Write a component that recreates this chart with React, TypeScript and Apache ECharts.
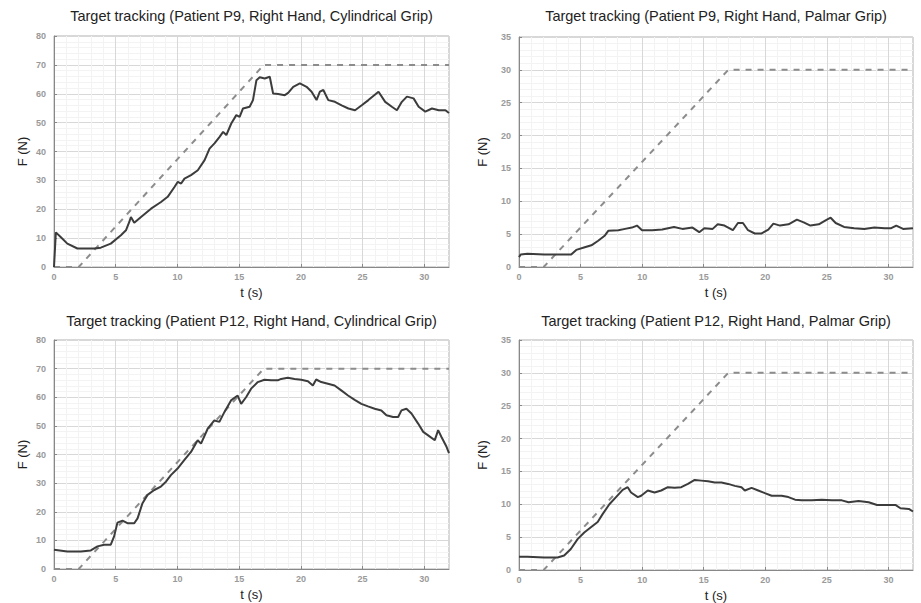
import React, { useEffect, useRef } from "react";
import * as echarts from "echarts";

const T_TARGET = [0, 2, 17, 32];
const F_TARGET_CYL = [0, 0, 70, 70];
const F_TARGET_PAL = [0, 0, 30, 30];

const TITLES = [
  "Target tracking (Patient P9, Right Hand, Cylindrical Grip)",
  "Target tracking (Patient P9, Right Hand, Palmar Grip)",
  "Target tracking (Patient P12, Right Hand, Cylindrical Grip)",
  "Target tracking (Patient P12, Right Hand, Palmar Grip)",
];

const X_TICK_MAX = 32;
const Y_MAX_CYL = 80;
const Y_MAX_PAL = 35;

const P9_CYL_T = [0, 0.15, 0.54, 1.08, 1.9, 3.25, 3.79, 4.6, 5.42, 5.83, 6.1, 6.23, 6.5, 7.05, 7.86, 8.67, 9.21, 9.76, 10.03, 10.3, 10.57, 11.1, 11.65, 12.2, 12.6, 13.0, 13.4, 13.7, 13.96, 14.36, 14.77, 15.04, 15.31, 15.85, 16.12, 16.4, 16.67, 17.07, 17.48, 17.75, 18.16, 18.7, 18.97, 19.38, 19.92, 20.46, 20.87, 21.27, 21.54, 21.82, 22.22, 22.76, 23.3, 23.85, 24.39, 24.93, 25.47, 26.29, 26.83, 27.37, 27.78, 28.18, 28.59, 29.13, 29.54, 30.08, 30.62, 31.17, 31.71, 32];
const P9_CYL_F = [0, 12, 10.4, 8.1, 6.4, 6.4, 6.7, 8.1, 11, 12.7, 15.6, 17.3, 15.3, 17.3, 20.2, 22.5, 24.3, 27.7, 29.5, 28.9, 30.6, 31.8, 33.5, 37, 41, 42.8, 45, 46.8, 45.7, 49.7, 52.6, 52, 54.9, 55.5, 57.8, 64.7, 65.7, 65.3, 65.9, 60.1, 59.9, 59.5, 60.3, 62.4, 63.6, 62.4, 60.7, 57.8, 60.7, 61.3, 57.8, 57.2, 56, 54.9, 54.3, 56, 57.8, 60.7, 57.2, 55.5, 54.3, 57.2, 59, 58.4, 55.5, 53.8, 54.9, 54.3, 54.3, 53.3];

const P9_PAL_T = [0, 0.14, 0.68, 2.05, 3.15, 4.24, 4.65, 5.34, 5.88, 6.43, 6.98, 7.25, 8.07, 8.62, 9.17, 9.58, 9.99, 10.81, 11.63, 12.59, 13.27, 14.09, 14.64, 15.05, 15.73, 16.14, 16.69, 17.37, 17.78, 18.19, 18.6, 19.15, 19.7, 20.25, 20.66, 21.2, 21.89, 22.57, 23.12, 23.67, 24.35, 24.9, 25.31, 25.72, 26.4, 27.22, 28.04, 28.86, 29.69, 30.23, 30.64, 31.19, 32];
const P9_PAL_F = [1.5, 1.9, 2.0, 1.9, 1.9, 1.9, 2.6, 3.0, 3.3, 4.0, 4.8, 5.5, 5.6, 5.8, 6.0, 6.3, 5.6, 5.6, 5.7, 6.1, 5.8, 6.0, 5.3, 5.9, 5.8, 6.5, 6.3, 5.6, 6.7, 6.7, 5.6, 5.1, 5.1, 5.7, 6.6, 6.3, 6.5, 7.2, 6.8, 6.3, 6.5, 7.1, 7.5, 6.7, 6.1, 5.9, 5.8, 6.0, 5.9, 5.9, 6.3, 5.8, 5.9];

const P12_CYL_T = [0, 1.08, 2.17, 2.98, 3.52, 4.06, 4.6, 4.87, 5.14, 5.55, 5.95, 6.5, 6.77, 7.17, 7.58, 8.12, 8.66, 9.07, 9.47, 10.01, 10.55, 11.1, 11.64, 11.91, 12.45, 12.99, 13.4, 13.8, 14.34, 14.88, 15.16, 15.56, 15.97, 16.51, 17.05, 17.59, 18.13, 18.4, 18.94, 19.49, 20.03, 20.57, 20.97, 21.24, 21.65, 22.19, 22.73, 23.27, 23.82, 24.36, 24.9, 25.44, 25.98, 26.52, 26.93, 27.47, 27.88, 28.15, 28.55, 28.96, 29.5, 29.91, 30.31, 30.85, 31.12, 31.39, 31.8, 32];
const P12_CYL_F = [6.7, 6.1, 6.1, 6.5, 7.9, 8.5, 8.5, 11.4, 16.2, 16.9, 16, 16, 17.7, 23, 25.9, 27.6, 28.8, 30.5, 32.8, 35.1, 38, 40.9, 45, 43.8, 49, 51.9, 51.4, 54.8, 58.9, 60.6, 57.7, 60, 63, 65.3, 66.1, 65.9, 65.9, 66.4, 66.8, 66.4, 66.1, 65.6, 64.1, 66.2, 65.3, 64.7, 64.1, 62.4, 60.6, 59.1, 57.7, 56.8, 56, 55.4, 53.7, 53.1, 53.1, 55.4, 56, 54.3, 50.8, 47.9, 46.7, 45, 48.5, 46.1, 42.7, 40.5];

const P12_PAL_T = [0, 0.68, 2.04, 3.13, 3.67, 4.21, 4.76, 5.3, 5.84, 6.39, 6.79, 7.34, 7.88, 8.42, 8.83, 9.1, 9.65, 9.92, 10.46, 11.01, 11.55, 12.09, 12.64, 13.18, 13.72, 14.27, 14.81, 15.35, 15.9, 16.44, 16.98, 17.53, 18.07, 18.34, 18.89, 19.43, 19.97, 20.52, 21.33, 21.88, 22.42, 22.96, 23.78, 24.59, 25.41, 26.22, 26.77, 27.58, 28.4, 29.08, 29.76, 30.57, 30.98, 31.66, 32];
const P12_PAL_F = [2.0, 2.0, 1.9, 1.9, 2.2, 3.2, 4.7, 5.7, 6.5, 7.3, 8.5, 10, 11.1, 12.2, 12.6, 11.8, 11.1, 11.3, 12.1, 11.8, 12.1, 12.6, 12.5, 12.6, 13.1, 13.7, 13.6, 13.5, 13.3, 13.3, 13.1, 12.8, 12.6, 12.1, 12.5, 12.1, 11.7, 11.3, 11.3, 11.1, 10.7, 10.6, 10.6, 10.7, 10.6, 10.6, 10.3, 10.5, 10.3, 9.9, 9.9, 9.9, 9.4, 9.3, 8.9];

const zip = (t: number[], f: number[]) => t.map((v, i) => [v, f[i]]);

const GRIDS = [
  { left: 54, top: 36, width: 395, height: 231 },
  { left: 519, top: 37, width: 394, height: 230 },
  { left: 54, top: 340, width: 395, height: 229 },
  { left: 519, top: 340, width: 394, height: 230 },
];

export default function App() {
  const ref = useRef<HTMLDivElement>(null);
  useEffect(() => {
    document.body.style.margin = "0";
    if (!ref.current) return;
    const chart = echarts.init(ref.current, null, { renderer: "svg" });
    const font = "'Liberation Sans', Arial, Helvetica, sans-serif";
    const actual = [
      zip(P9_CYL_T, P9_CYL_F),
      zip(P9_PAL_T, P9_PAL_F),
      zip(P12_CYL_T, P12_CYL_F),
      zip(P12_PAL_T, P12_PAL_F),
    ];
    const targets = [F_TARGET_CYL, F_TARGET_PAL, F_TARGET_CYL, F_TARGET_PAL].map((f) => zip(T_TARGET, f));
    const isCyl = [true, false, true, false];

    const grid = GRIDS.map((g) => ({
      ...g,
      show: true,
      borderColor: "#b0b0b0",
      borderWidth: 1,
      backgroundColor: "#fff",
      containLabel: false,
    }));

    const xAxis = GRIDS.map((_, i) => ({
      type: "value",
      gridIndex: i,
      min: 0,
      max: X_TICK_MAX,
      interval: 5,
      name: "t (s)",
      nameLocation: "middle",
      nameGap: 19,
      nameTextStyle: { fontFamily: font, fontSize: 13, color: "#222" },
      axisLine: { show: true, lineStyle: { color: "#888", width: 1 } },
      axisTick: { show: true, inside: true, length: 3, lineStyle: { color: "#888" } },
      axisLabel: { fontFamily: font, fontSize: 9, color: "#9a9a9a", fontWeight: "bold", margin: 5, showMaxLabel: false },
      splitLine: { show: true, lineStyle: { color: "#d8d8d8", width: 1 } },
      minorTick: { show: false, splitNumber: 5 },
      minorSplitLine: { show: true, lineStyle: { color: "#f3f3f3", width: 1 } },
    }));

    const yAxis = GRIDS.map((_, i) => ({
      type: "value",
      gridIndex: i,
      min: 0,
      max: isCyl[i] ? Y_MAX_CYL : Y_MAX_PAL,
      interval: isCyl[i] ? 10 : 5,
      name: "F (N)",
      nameLocation: "middle",
      nameGap: i % 2 === 0 ? 25 : 30,
      nameTextStyle: { fontFamily: font, fontSize: 13, color: "#222" },
      axisLine: { show: true, lineStyle: { color: "#888", width: 1 } },
      axisTick: { show: true, inside: true, length: 3, lineStyle: { color: "#888" } },
      axisLabel: { fontFamily: font, fontSize: 9, color: "#9a9a9a", fontWeight: "bold", margin: 8 },
      splitLine: { show: true, lineStyle: { color: "#d8d8d8", width: 1 } },
      minorTick: { show: false, splitNumber: 5 },
      minorSplitLine: { show: true, lineStyle: { color: "#f3f3f3", width: 1 } },
    }));

    const series: any[] = [];
    GRIDS.forEach((_, i) => {
      series.push({
        type: "line",
        xAxisIndex: i,
        yAxisIndex: i,
        data: targets[i],
        showSymbol: false,
        symbol: "none",
        lineStyle: { color: "#8c8c8c", width: 2, type: [6, 6] },
        z: 2,
      });
      series.push({
        type: "line",
        xAxisIndex: i,
        yAxisIndex: i,
        data: actual[i],
        showSymbol: false,
        symbol: "none",
        lineStyle: { color: "#3c3c3c", width: 2 },
        z: 3,
      });
    });

    const titleGraphics = GRIDS.map((g, i) => ({
      type: "text",
      x: g.left + g.width / 2,
      y: i < 2 ? 16 : 321,
      style: {
        text: TITLES[i],
        fill: "#222",
        font: `14.5px ${font}`,
        textAlign: "center",
        textVerticalAlign: "middle",
      },
    }));

    chart.setOption({
      animation: false,
      backgroundColor: "#fff",
      grid,
      xAxis,
      yAxis,
      series,
      graphic: titleGraphics,
    } as any);
    return () => chart.dispose();
  }, []);
  return <div ref={ref} style={{ width: 921, height: 603 }} />;
}
